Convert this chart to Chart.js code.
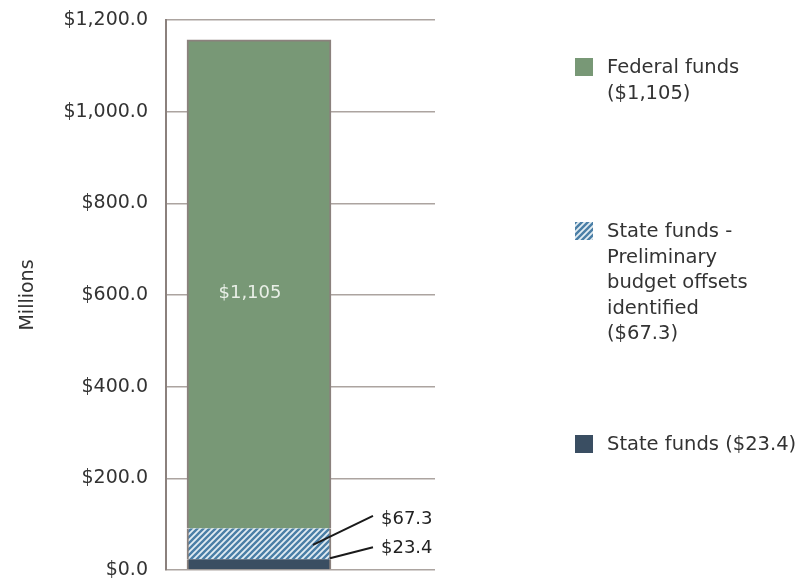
<!DOCTYPE html>
<html>
<head>
<meta charset="utf-8">
<script src="https://cdn.jsdelivr.net/npm/chart.js@4/dist/chart.umd.min.js"></script>
<style>
  html, body { margin: 0; padding: 0; background: #ffffff; }
  #wrap { width: 802px; height: 579px; position: relative; }
</style>
</head>
<body>
<div id="wrap"><canvas id="c" width="802" height="579"></canvas></div>
<script>
// ---- Data ----
const categories = ['Total'];
const seriesNames = ['State funds', 'State funds - Preliminary budget offsets identified', 'Federal funds'];
const stateFunds = [23.4];
const budgetOffsets = [67.3];
const federalFunds = [1066];           // height of the green segment as drawn
const valueLabels = ['$23.4', '$67.3', '$1,105'];
const legendLines = [
  ['Federal funds', '($1,105)'],
  ['State funds -', 'Preliminary', 'budget offsets', 'identified', '($67.3)'],
  ['State funds ($23.4)']
];
const yTickLabels = ['$0.0', '$200.0', '$400.0', '$600.0', '$800.0', '$1,000.0', '$1,200.0'];
const yTitle = 'Millions';

// ---- Styles ----
const GREEN = '#789876';
const NAVY = '#3a4e62';
const EDGE = '#8b817d';
const FONT = 'DejaVu Sans';

const hatch = (() => {
  const c = document.createElement('canvas');
  c.width = 6; c.height = 6;
  const g = c.getContext('2d');
  g.fillStyle = '#e2ecf2';
  g.fillRect(0, 0, 6, 6);
  g.strokeStyle = '#4a7ea6';
  g.lineWidth = 2.4;
  g.beginPath();
  g.moveTo(-3, 3); g.lineTo(3, -3);
  g.moveTo(0, 6); g.lineTo(6, 0);
  g.moveTo(3, 9); g.lineTo(9, 3);
  g.stroke();
  return g.createPattern(c, 'repeat');
})();

const overlay = {
  id: 'overlay',
  afterDatasetsDraw(chart) {
    const ctx = chart.ctx;
    const sBar = chart.getDatasetMeta(0).data[0];
    const oBar = chart.getDatasetMeta(1).data[0];
    const fBar = chart.getDatasetMeta(2).data[0];
    ctx.save();
    // label inside green bar
    ctx.font = '18px "' + FONT + '"';
    ctx.fillStyle = '#e9efe7';
    ctx.textAlign = 'center';
    ctx.textBaseline = 'middle';
    ctx.fillText(valueLabels[2], fBar.x - 9, chart.scales.y.getPixelForValue(600) - 2);

    // callouts
    const rightEdge = sBar.x + sBar.width / 2;
    const oMid = (oBar.y + oBar.base) / 2;
    const sMid = (sBar.y + sBar.base) / 2;
    ctx.strokeStyle = '#1a1a1a';
    ctx.lineWidth = 2;
    ctx.beginPath();
    ctx.moveTo(rightEdge - 18, oMid + 1);
    ctx.lineTo(rightEdge + 42, oMid - 28);
    ctx.moveTo(rightEdge - 1, sMid - 6);
    ctx.lineTo(rightEdge + 42, sMid - 17);
    ctx.stroke();
    ctx.fillStyle = '#222';
    ctx.textAlign = 'left';
    ctx.fillText(valueLabels[1], rightEdge + 50, oMid - 25);
    ctx.fillText(valueLabels[0], rightEdge + 50, sMid - 16);

    // legend
    const fills = [GREEN, hatch, NAVY];
    const tops = [58, 222, 435];
    const lineH = 25.5;
    ctx.font = '19.5px "' + FONT + '"';
    legendLines.forEach((lines, i) => {
      ctx.fillStyle = fills[i];
      ctx.fillRect(575, tops[i], 18, 18);
      ctx.fillStyle = '#333';
      lines.forEach((t, j) => {
        ctx.fillText(t, 607, tops[i] + 10 + j * lineH);
      });
    });
    ctx.restore();
  }
};

new Chart(document.getElementById('c'), {
  type: 'bar',
  data: {
    labels: categories,
    datasets: [
      { label: seriesNames[0], data: stateFunds.map(v => ({ x: 0, y: v })), backgroundColor: NAVY,
        borderColor: EDGE, borderWidth: { left: 2, right: 2, top: 0, bottom: 0 }, borderSkipped: false },
      { label: seriesNames[1], data: budgetOffsets.map(v => ({ x: 0, y: v })), backgroundColor: hatch,
        borderColor: EDGE, borderWidth: { left: 2, right: 2, top: 0, bottom: 0 }, borderSkipped: false },
      { label: seriesNames[2], data: federalFunds.map(v => ({ x: 0, y: v })), backgroundColor: GREEN,
        borderColor: EDGE, borderWidth: { left: 2, right: 2, top: 2, bottom: 0 }, borderSkipped: false }
    ]
  },
  options: {
    responsive: false,
    animation: false,
    events: [],
    barThickness: 144,
    layout: { padding: { left: 17, right: 367, top: 20, bottom: 0 } },
    plugins: { legend: { display: false }, tooltip: { enabled: false } },
    scales: {
      x: { type: 'linear', display: false, stacked: true, offset: false, min: -1, max: 1.893,
           grid: { offset: false } },
      y: {
        stacked: true,
        min: 0, max: 1200,
        afterFit(scale) { scale.width = 149; },
        ticks: {
          stepSize: 200,
          padding: 0,
          color: '#333',
          font: { family: FONT, size: 19, lineHeight: 0.95 },
          callback: (v, i) => yTickLabels[i]
        },
        grid: { color: '#aca4a0', lineWidth: 1.5, drawTicks: true, tickLength: 18, tickColor: 'rgba(0,0,0,0)' },
        border: { display: true, color: EDGE, width: 2 },
        title: {
          display: true, text: yTitle, color: '#333', padding: 0,
          font: { family: FONT, size: 19, lineHeight: 1.2 }
        }
      }
    }
  },
  plugins: [overlay]
});
</script>
</body>
</html>
